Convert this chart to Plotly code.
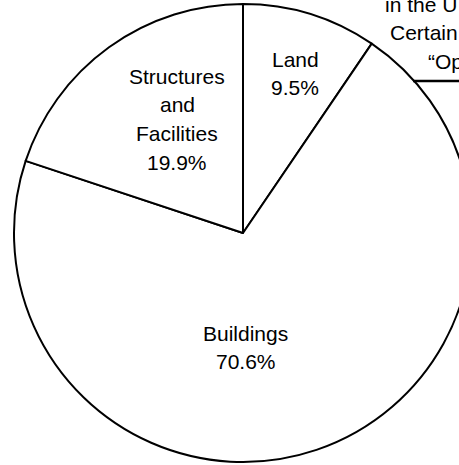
import plotly.graph_objects as go

# ---- data ----
categories = ["Land", "Buildings", "Structures and Facilities"]
values = [9.5, 70.6, 19.9]
label_lines = [["Land", "9.5%"], ["Buildings", "70.6%"], ["Structures", "and", "Facilities", "19.9%"]]
callout_lines = ["in the U", "Certain", "\u201cOp"]

# ---- layout geometry (pixels) ----
W, H = 480, 465
ML, MR, MT, MB = 14, 8, 4, 3
PW, PH = W - ML - MR, H - MT - MB


def px(x):
    return (x - ML) / PW


def py(y):
    return 1 - (y - MT) / PH


FONT = "Liberation Sans, Arial, Helvetica, sans-serif"

fig = go.Figure(
    go.Pie(
        labels=categories,
        values=values,
        sort=False,
        direction="clockwise",
        rotation=0,
        textinfo="none",
        hoverinfo="none",
        marker=dict(colors=["white"] * 3, line=dict(color="black", width=2)),
        showlegend=False,
    )
)

annotations = []
label_pos = [(295, 59), (246, 333), (177, 76)]
LS = 28.7
for lines, (cx, cy) in zip(label_lines, label_pos):
    for i, t in enumerate(lines):
        annotations.append(dict(
            x=px(cx), y=py(cy + i * LS), xref="paper", yref="paper",
            text=t, showarrow=False, xanchor="center", yanchor="middle",
            font=dict(family=FONT, size=21, color="black"),
        ))

call_pos = [(383, 4), (388, 32), (426, 62)]
for t, (x0, y0) in zip(callout_lines, call_pos):
    annotations.append(dict(
        x=px(x0), y=py(y0), xref="paper", yref="paper",
        text=t, showarrow=False, xanchor="left", yanchor="middle",
        font=dict(family=FONT, size=21, color="black"),
    ))

shapes = [dict(type="line", xref="paper", yref="paper",
               x0=px(413), x1=px(480), y0=py(81), y1=py(81),
               line=dict(color="black", width=2.5))]

fig.update_layout(
    width=W, height=H,
    margin=dict(l=ML, r=MR, t=MT, b=MB, pad=0),
    paper_bgcolor="white", plot_bgcolor="white",
    annotations=annotations, shapes=shapes,
)

fig.write_html(
    "out.html",
    config={"displayModeBar": False},
    post_script="document.body.style.margin='0';document.body.style.overflow='hidden';"
                "document.documentElement.style.overflow='hidden';",
)
